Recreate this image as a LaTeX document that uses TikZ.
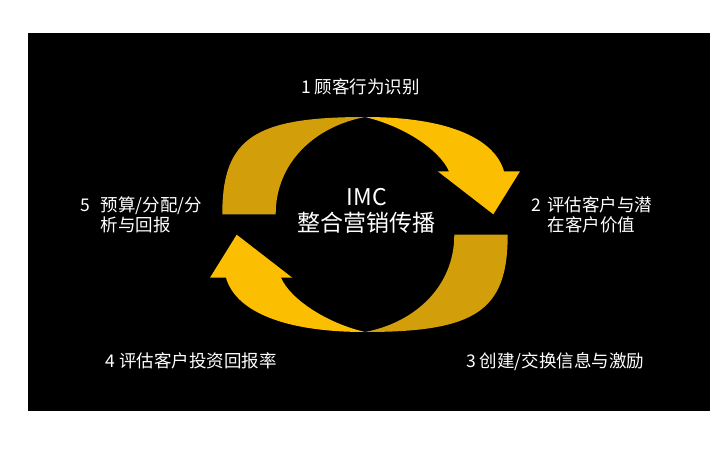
\documentclass[tikz,border=0pt]{standalone}
\usepackage{fontspec}
\setmainfont{Noto Sans CJK SC}
\definecolor{ringbright}{RGB}{252,190,0}
\definecolor{ringdark}{RGB}{210,158,10}
\begin{document}
\begin{tikzpicture}[x=1pt,y=1pt,
  lbl/.style={text=white, inner sep=0pt, anchor=base west, font=\fontsize{17.5}{20}\selectfont},
  ctr/.style={text=white, inner sep=0pt, anchor=base, font=\fontsize{23}{26.5}\selectfont},
  darkpart/.style={fill=ringdark},
  brightpart/.style={fill=ringbright}]
% canvas
\useasboundingbox (-365,-225.5) rectangle (355,224.5);
\fill[white] (-365,-225.5) rectangle (355,224.5);
\fill[black] (-337,-186.5) rectangle (345,191.5);
% the two twisted arrows (second is the first turned by 180 degrees)
\foreach \r in {0,180}{
  \begin{scope}[rotate=\r]
    \fill[darkpart] (-142.7,10.2) .. controls (-142.7,86.1) and (-111.3,107.5) .. (0,107.5)
       .. controls (-50,98) and (-89.3,62) .. (-89.3,10.2) -- cycle;
    \fill[brightpart] (0,107.5) .. controls (85,107.5) and (130,85) .. (139,53.2)
       -- (155,53.2) -- (128.3,10.2) -- (72.7,53.2) -- (84,53.2)
       .. controls (75,74) and (40,98) .. (0,107.5) -- cycle;
  \end{scope}
}
% texts
\node[ctr] (imc) at (2,19.5) {\vtop{\baselineskip=26.5pt\lineskiplimit=-\maxdimen
   \hbox to 140pt{\hss IMC\hss}\hbox to 140pt{\hss 整合营销传播\hss}}};
\node[lbl] (t1) at (-64,130.5) {1 顾客行为识别};
\node[lbl] (t2) at (166.5,12.8) {\vtop{\baselineskip=20pt\lineskiplimit=-\maxdimen
   \hbox{\makebox[15.8pt][l]{2 }评估客户与潜}\hbox{\hspace*{15.8pt}在客户价值}}};
\node[lbl] (t5) at (-284.5,12.8) {\vtop{\baselineskip=20pt\lineskiplimit=-\maxdimen
   \hbox{\makebox[20.2pt][l]{5 }预算/分配/分}\hbox{\hspace*{20.2pt}析与回报}}};
\node[lbl] (t3) at (101,-142.8) {3 创建/交换信息与激励};
\node[lbl] (t4) at (-259.5,-142.8) {4 评估客户投资回报率};
\end{tikzpicture}
\end{document}
